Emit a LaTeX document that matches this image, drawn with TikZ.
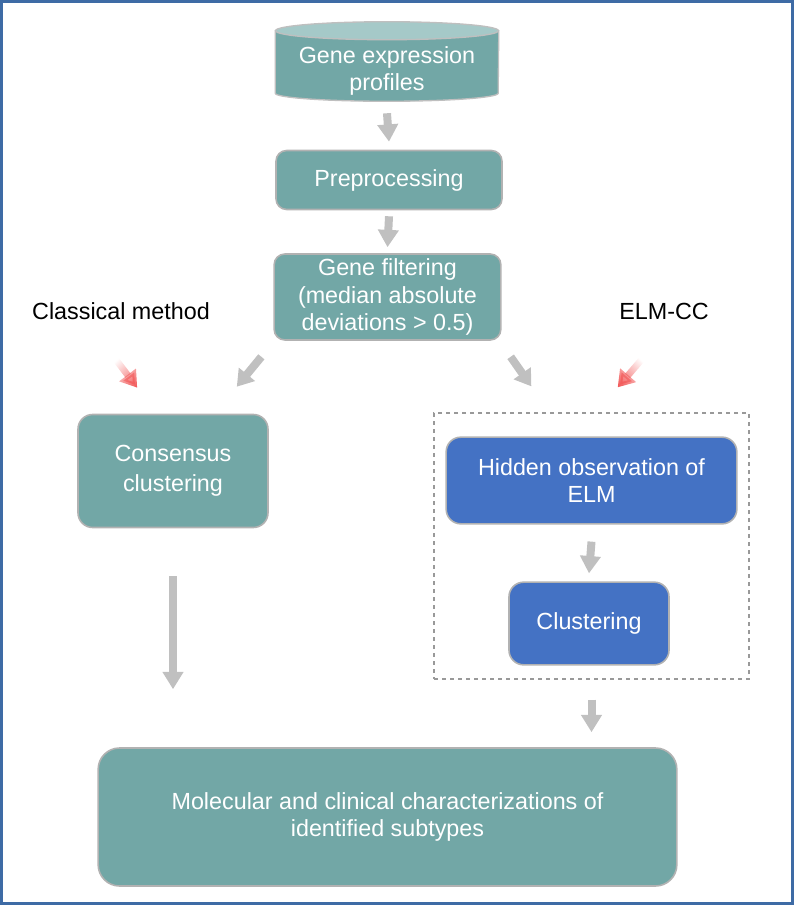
\documentclass[tikz,border=0pt]{standalone}
\usepackage{fontspec}
\setmainfont{Liberation Sans}
\usetikzlibrary{arrows.meta,fadings,backgrounds}

\definecolor{tealbox}{RGB}{114,167,166}
\definecolor{tealtop}{RGB}{165,201,200}
\definecolor{elmblue}{RGB}{68,114,196}
\definecolor{frameblue}{RGB}{62,107,165}
\definecolor{arrowgray}{RGB}{192,192,192}
\definecolor{hintred}{RGB}{242,92,92}

\tikzfading[name=tailfade, top color=transparent!100, middle color=transparent!15,
  bottom color=transparent!0]

\tikzset{
  box/.style={rectangle, rounded corners=8pt, fill=tealbox, draw=black!30,
    line width=1.2pt, text=white, align=center, inner sep=2pt,
    font=\fontsize{17.5}{20.8}\selectfont},
  elmbox/.style={box, fill=elmblue},
  flow/.style={draw=arrowgray, line width=6pt,
    -{Triangle[width=15pt,length=13pt]}},
  slant/.style={draw=arrowgray, line width=6pt,
    -{Triangle[width=15pt,length=12pt]}},
  hint/.style={draw=hintred, line width=5pt,
    -{Triangle[width=15pt,length=12pt]}, path fading=tailfade},
  side/.style={font=\fontsize{17.5}{20.8}\selectfont}
}

\begin{document}
\begin{tikzpicture}[x=0.75pt,y=-0.75pt]
\useasboundingbox (0,0) rectangle (794,905);
\draw[frameblue, line width=2.25pt] (1.5,1.5) rectangle (792.5,903.5);

% pipeline
\node[text=white, align=center, inner sep=0pt, minimum width=167.25pt,
  minimum height=45pt, font=\fontsize{17.5}{20.8}\selectfont]
  (db) at (387,71) {Gene expression\\profiles};
\begin{scope}[on background layer]
\filldraw[fill=tealbox, draw=black!25, line width=1pt]
  ([yshift=7.5pt]db.north west) -- ([yshift=6pt]db.south west)
  arc[start angle=180, end angle=360, x radius=83.6pt, y radius=6pt]
  -- ([yshift=7.5pt]db.north east) -- cycle;
\filldraw[fill=tealtop, draw=black!25, line width=1pt]
  ([yshift=7.5pt]db.north) ellipse[x radius=83.6pt, y radius=6.75pt];
\end{scope}
\node[box, minimum width=169.5pt, minimum height=44.25pt] (pre) at (389,180) {Preprocessing};
\node[box, minimum width=170pt, minimum height=64.5pt] (filt) at (387.5,297)
  {Gene filtering\\(median absolute\\deviations > 0.5)};

% two branches
\node[side] (classic) at (121,311) {Classical method};
\node[side] (elmlabel) at (664,311) {ELM-CC};
\node[box, rounded corners=11pt, minimum width=142.5pt, minimum height=84.75pt,
  font=\fontsize{17.5}{22.5}\selectfont]
  (cons) at (173,471) {Consensus\\clustering};
\node[draw=black!40, dashed, line width=1pt, minimum width=236.25pt,
  minimum height=199.5pt] (elmcc) at (591.5,546) {};
\node[elmbox, rounded corners=11pt, minimum width=218pt, minimum height=65pt]
  (hid) at (591.5,480.5) {Hidden observation of\\ELM};
\node[elmbox, rounded corners=11pt, minimum width=120pt, minimum height=62pt]
  (clu) at (589,623.5) {Clustering};
\node[box, rounded corners=16pt, minimum width=434pt, minimum height=103.5pt]
  (res) at (387.5,817) {Molecular and clinical characterizations of\\identified subtypes};

\coordinate (consin) at (cons.south |- res.north);
\coordinate (elmin) at (elmcc.south |- res.north);

\draw[flow] ([yshift=-9pt]db.south) -- ([yshift=6pt]pre.north);
\draw[flow] ([yshift=-4.5pt]pre.south) -- ([yshift=4.5pt]filt.north);
\draw[slant] ([shift={(-12,16)}]filt.south west) -- ([shift={(-32,-27)}]cons.north east);
\draw[slant] ([shift={(9,16)}]filt.south east) -- ([shift={(86,-50)}]hid.north west);
\draw[hint, fading angle=37] ([shift={(38,-55)}]cons.north west) -- ([shift={(60,-26)}]cons.north west);
\draw[hint, fading angle=-41] ([shift={(-107,-54)}]elmcc.north east) -- ([shift={(-132,-25)}]elmcc.north east);
\draw[flow] ([yshift=-12.75pt]hid.south) -- ([yshift=6pt]clu.north);
\draw[flow] ([yshift=-36pt]cons.south) -- ([yshift=43.5pt]consin);
\draw[flow] ([yshift=-15pt]elmcc.south) -- ([yshift=11.25pt]elmin);
\end{tikzpicture}
\end{document}
